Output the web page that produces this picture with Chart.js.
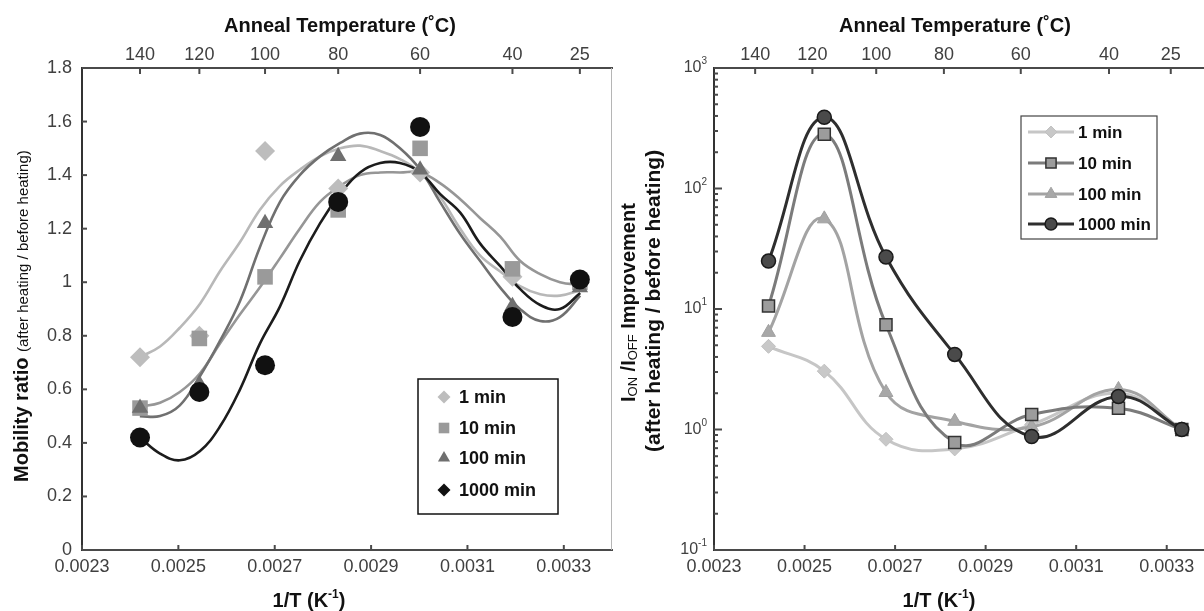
<!DOCTYPE html>
<html>
<head>
<meta charset="utf-8">
<script src="https://cdn.jsdelivr.net/npm/chart.js@4.4.0/dist/chart.umd.min.js"></script>
<style>
  html, body { margin: 0; padding: 0; background: #fff; }
  #wrap { position: relative; width: 1204px; height: 611px; overflow: hidden; }
  canvas { position: absolute; left: 0; top: 0; }
</style>
</head>
<body>
<div id="wrap">
  <canvas id="mobChart" width="1204" height="611"></canvas>
  <!-- wider than the page: the right panel runs past the edge, as in the original crop -->
  <canvas id="onoffChart" width="1230" height="611"></canvas>
</div>
<script>
const FONT = "'Liberation Sans', Arial, Helvetica, sans-serif";

// ---------- data ----------
const seriesNames = ['1 min', '10 min', '100 min', '1000 min'];
const annealTemps = ['140', '120', '100', '80', '60', '40', '25'];
// 1/T of the anneal temperatures (data points + left top axis)
const annealX = [0.0024204, 0.0025436, 0.0026799, 0.0028317, 0.0030017, 0.0031934, 0.0033333];
// the right panel's top axis is drawn slightly shifted in the original
const rightTopTickX = [0.0023909, 0.0025173, 0.0026583, 0.0028078, 0.0029776, 0.0031725, 0.0033089];
const xTickValues = [0.0023, 0.0025, 0.0027, 0.0029, 0.0031, 0.0033];
const mobTickValues = [0, 0.2, 0.4, 0.6, 0.8, 1, 1.2, 1.4, 1.6, 1.8];
const ratioDecades = [0.1, 1, 10, 100, 1000];
const ratioExponents = ['-1', '0', '1', '2', '3'];

// mobility ratio (after / before heating), measured points
const mob1 = [0.72, 0.80, 1.49, 1.35, 1.41, 1.02, 1.00];
const mob10 = [0.53, 0.79, 1.02, 1.27, 1.50, 1.05, 1.00];
const mob100 = [0.53, 0.62, 1.22, 1.47, 1.42, 0.91, 0.98];
const mob1000 = [0.42, 0.59, 0.69, 1.30, 1.58, 0.87, 1.01];

// smooth fit curves on the left panel, sampled from the figure
const fitX = [0.00242, 0.002462, 0.002503, 0.002545, 0.002586, 0.002628, 0.002669, 0.002711,
  0.002752, 0.002794, 0.002836, 0.002877, 0.002919, 0.00296, 0.003002, 0.003043, 0.003085,
  0.003126, 0.003168, 0.003209, 0.003251, 0.003292, 0.003334];
const fit1 = [0.72, 0.76, 0.83, 0.92, 1.04, 1.15, 1.27, 1.36, 1.42, 1.47, 1.50, 1.51, 1.49,
  1.46, 1.41, 1.32, 1.20, 1.10, 1.04, 0.985, 0.955, 0.95, 0.97];
const fit10 = [0.535, 0.55, 0.59, 0.66, 0.77, 0.88, 0.98, 1.09, 1.20, 1.30, 1.36, 1.40, 1.41,
  1.41, 1.41, 1.37, 1.31, 1.24, 1.17, 1.08, 1.03, 1.00, 0.99];
const fit100 = [0.50, 0.50, 0.54, 0.65, 0.78, 0.93, 1.13, 1.30, 1.40, 1.47, 1.52, 1.555, 1.55,
  1.50, 1.42, 1.30, 1.18, 1.08, 0.98, 0.90, 0.855, 0.87, 0.95];
const fit1000 = [0.42, 0.36, 0.335, 0.37, 0.46, 0.60, 0.77, 0.91, 1.08, 1.22, 1.33, 1.41, 1.445,
  1.445, 1.41, 1.33, 1.26, 1.145, 1.06, 0.975, 0.915, 0.90, 0.96];

// I_ON/I_OFF improvement (after / before heating)
const onoff1 = [4.9, 3.05, 0.83, 0.69, 1.1, 2.0, 1.0];
const onoff10 = [10.6, 282, 7.4, 0.78, 1.33, 1.5, 1.0];
const onoff100 = [6.4, 56, 2.03, 1.17, 1.05, 2.15, 1.0];
const onoff1000 = [25, 390, 27, 4.2, 0.875, 1.88, 1.0];

function pts(xs, ys) {
  return xs.map((x, i) => ({ x: x, y: ys[i] }));
}

// ---------- drawing helpers ----------
function drawMarker(ctx, style, x, y, r, fill, stroke, lw) {
  ctx.beginPath();
  if (style === 'rectRot') {
    ctx.moveTo(x - r, y); ctx.lineTo(x, y - r); ctx.lineTo(x + r, y); ctx.lineTo(x, y + r);
    ctx.closePath();
  } else if (style === 'rect') {
    const h = r * Math.SQRT1_2;
    ctx.rect(x - h, y - h, 2 * h, 2 * h);
  } else if (style === 'triangle') {
    ctx.moveTo(x, y - r);
    ctx.lineTo(x + r * 0.866, y + r * 0.5);
    ctx.lineTo(x - r * 0.866, y + r * 0.5);
    ctx.closePath();
  } else {
    ctx.arc(x, y, r, 0, Math.PI * 2);
  }
  ctx.fillStyle = fill;
  ctx.fill();
  if (lw) {
    ctx.lineWidth = lw;
    ctx.strokeStyle = stroke;
    ctx.stroke();
  }
}

// text made of pieces with different fonts / vertical offsets
function drawRich(ctx, x, y, parts, align) {
  let total = 0;
  parts.forEach(p => { ctx.font = p.font; p.w = ctx.measureText(p.text).width; total += p.w; });
  let cx = align === 'center' ? x - total / 2 : (align === 'right' ? x - total : x);
  ctx.textAlign = 'left';
  ctx.textBaseline = 'alphabetic';
  parts.forEach(p => {
    ctx.font = p.font;
    ctx.fillText(p.text, cx, y + (p.dy || 0));
    cx += p.w;
  });
}

function drawRotated(ctx, x, y, parts) {
  ctx.save();
  ctx.translate(x, y);
  ctx.rotate(-Math.PI / 2);
  drawRich(ctx, 0, 0, parts, 'left');
  ctx.restore();
}

// short tick marks pointing into the plot
const innerTicks = {
  id: 'innerTicks',
  afterDraw(chart, args, opts) {
    const ctx = chart.ctx;
    const a = chart.chartArea;
    ctx.save();
    ctx.strokeStyle = opts.color;
    ctx.lineWidth = 2;
    Object.values(chart.scales).forEach(s => {
      s.ticks.forEach(t => {
        const p = s.getPixelForValue(t.value);
        const len = t.minor ? opts.minorLen : opts.len[s.position];
        ctx.beginPath();
        if (s.position === 'left') {
          ctx.moveTo(a.left, p); ctx.lineTo(a.left + len, p);
        } else if (s.position === 'bottom') {
          ctx.moveTo(p, a.bottom); ctx.lineTo(p, a.bottom - len);
        } else {
          ctx.moveTo(p, a.top); ctx.lineTo(p, a.top + len);
        }
        ctx.stroke();
      });
    });
    ctx.restore();
  }
};

const tickFont = { family: FONT, size: 18 };
const TICK_COLOR = '#404040';
const TITLE_FONT = 'bold 20px ' + FONT;

function xAxis(position, min, max, values, labels, height, pad) {
  return {
    type: 'linear',
    position: position,
    min: min,
    max: max,
    afterFit: s => { s.height = height; s.paddingLeft = 0; s.paddingRight = 0; },
    afterBuildTicks: s => { s.ticks = values.map(v => ({ value: v })); },
    ticks: {
      font: tickFont, color: TICK_COLOR, padding: pad, autoSkip: false, maxRotation: 0,
      callback: (v, i) => labels[i]
    },
    grid: { display: false, drawTicks: false },
    border: { color: '#4a4a4a', width: 2 }
  };
}

function kelvinTitle(ctx, x) {
  drawRich(ctx, x, 607, [
    { text: '1/T (K', font: TITLE_FONT },
    { text: '-1', font: 'bold 12px ' + FONT, dy: -9 },
    { text: ')', font: TITLE_FONT }
  ], 'center');
}

// ---------- left panel: mobility ratio ----------
const mobMarkers = [
  { key: 3, data: mob1000, style: 'circle', legendStyle: 'rectRot', r: 10, legendR: 6.5, fill: '#111111' },
  { key: 2, data: mob100, style: 'triangle', legendStyle: 'triangle', r: 9.5, legendR: 7, fill: '#6f6f6f' },
  { key: 1, data: mob10, style: 'rect', legendStyle: 'rect', r: 11, legendR: 7.5, fill: '#9a9a9a' },
  { key: 0, data: mob1, style: 'rectRot', legendStyle: 'rectRot', r: 10, legendR: 6.5, fill: '#bdbdbd' }
];
const mobCurves = [
  { key: 3, data: fit1000, color: '#1c1c1c' },
  { key: 2, data: fit100, color: '#707070' },
  { key: 1, data: fit10, color: '#969696' },
  { key: 0, data: fit1, color: '#b8b8b8' }
];

const mobDatasets = [];
mobMarkers.forEach((m, i) => {
  mobDatasets.push({
    label: seriesNames[m.key],
    data: pts(annealX, m.data),
    showLine: false,
    pointStyle: m.style,
    pointRadius: m.r,
    pointHoverRadius: m.r,
    backgroundColor: m.fill,
    borderColor: m.fill,
    borderWidth: 0,
    order: i
  });
});
mobCurves.forEach((c, i) => {
  mobDatasets.push({
    label: seriesNames[c.key] + ' fit',
    data: pts(fitX, c.data),
    showLine: true,
    pointRadius: 0,
    borderColor: c.color,
    borderWidth: 2.6,
    tension: 0.4,
    fill: false,
    order: 10 + i
  });
});

const mobDecor = {
  id: 'mobDecor',
  afterDraw(chart) {
    const ctx = chart.ctx;
    const a = chart.chartArea;
    ctx.save();
    // thin right frame
    ctx.strokeStyle = '#b5b5b5';
    ctx.lineWidth = 1;
    ctx.beginPath(); ctx.moveTo(a.right - 0.5, a.top); ctx.lineTo(a.right - 0.5, a.bottom); ctx.stroke();

    ctx.fillStyle = '#111';
    drawRich(ctx, 340, 32, [{ text: 'Anneal Temperature (\u02DAC)', font: TITLE_FONT }], 'center');
    kelvinTitle(ctx, 309);
    drawRotated(ctx, 28, 482, [
      { text: 'Mobility ratio ', font: 'bold 20px ' + FONT },
      { text: '(after heating / before heating)', font: '15px ' + FONT }
    ]);

    // legend
    ctx.strokeStyle = '#111';
    ctx.lineWidth = 1.5;
    ctx.strokeRect(418, 379, 140, 135);
    const rows = [397, 428, 458, 490];
    for (let k = 0; k < 4; k++) {
      const m = mobMarkers.find(s => s.key === k);
      drawMarker(ctx, m.legendStyle, 444, rows[k], m.legendR, m.fill);
      ctx.fillStyle = '#111';
      drawRich(ctx, 459, rows[k] + 6, [{ text: seriesNames[k], font: 'bold 18px ' + FONT }], 'left');
    }
    ctx.restore();
  }
};

new Chart(document.getElementById('mobChart'), {
  type: 'scatter',
  data: { datasets: mobDatasets },
  options: {
    responsive: false,
    animation: false,
    devicePixelRatio: 1,
    layout: { padding: { left: 0, right: 592, top: 0, bottom: 0 } },
    plugins: {
      legend: { display: false },
      tooltip: { enabled: false },
      innerTicks: { color: '#4a4a4a', len: { left: 5, bottom: 5, top: 6 }, minorLen: 3 }
    },
    scales: {
      x: xAxis('bottom', 0.0023, 0.0034, xTickValues, xTickValues.map(v => v.toFixed(4)), 61, 6),
      xTop: xAxis('top', 0.0023, 0.0034, annealX, annealTemps, 68, 2),
      y: {
        type: 'linear',
        position: 'left',
        min: 0,
        max: 1.8,
        afterFit: s => { s.width = 82; s.paddingTop = 0; s.paddingBottom = 0; },
        afterBuildTicks: s => { s.ticks = mobTickValues.map(v => ({ value: v })); },
        ticks: {
          font: tickFont, color: TICK_COLOR, padding: 10,
          callback: v => String(+v.toFixed(1))
        },
        grid: { display: false, drawTicks: false },
        border: { color: '#333', width: 2 }
      }
    }
  },
  plugins: [innerTicks, mobDecor]
});

// ---------- right panel: I_ON/I_OFF improvement ----------
const onoffSeries = [
  { key: 3, data: onoff1000, style: 'circle', r: 7, fill: '#4a4a4a', border: '#1a1a1a', bw: 1.5, line: '#2e2e2e' },
  { key: 1, data: onoff10, style: 'rect', r: 8.5, fill: '#9c9c9c', border: '#333333', bw: 1.5, line: '#7b7b7b' },
  { key: 2, data: onoff100, style: 'triangle', r: 8, fill: '#a8a8a8', border: '#a0a0a0', bw: 1, line: '#a3a3a3' },
  { key: 0, data: onoff1, style: 'rectRot', r: 7, fill: '#c8c8c8', border: '#c0c0c0', bw: 1, line: '#c6c6c6' }
];
const onoffDatasets = onoffSeries.map((s, i) => ({
  label: seriesNames[s.key],
  data: pts(annealX, s.data),
  showLine: true,
  tension: 0.42,
  borderColor: s.line,
  borderWidth: 3,
  pointStyle: s.style,
  pointRadius: s.r,
  pointHoverRadius: s.r,
  pointBackgroundColor: s.fill,
  pointBorderColor: s.border,
  pointBorderWidth: s.bw,
  fill: false,
  order: i
}));

const onoffDecor = {
  id: 'onoffDecor',
  afterDraw(chart) {
    const ctx = chart.ctx;
    const ys = chart.scales.y;
    ctx.save();
    ctx.fillStyle = TICK_COLOR;
    ratioDecades.forEach((v, i) => {
      const p = ys.getPixelForValue(v);
      drawRich(ctx, 707, p + 4, [
        { text: '10', font: '16px ' + FONT },
        { text: ratioExponents[i], font: '10px ' + FONT, dy: -8 }
      ], 'right');
    });

    ctx.fillStyle = '#111';
    drawRich(ctx, 955, 32, [{ text: 'Anneal Temperature (\u02DAC)', font: TITLE_FONT }], 'center');
    kelvinTitle(ctx, 939);
    drawRotated(ctx, 635, 402, [
      { text: 'I', font: 'bold 20px ' + FONT },
      { text: 'ON', font: '13px ' + FONT, dy: 2 },
      { text: ' /I', font: 'bold 20px ' + FONT },
      { text: 'OFF', font: '13px ' + FONT, dy: 2 },
      { text: ' Improvement', font: 'bold 20px ' + FONT }
    ]);
    drawRotated(ctx, 660, 452, [
      { text: '(after heating / before heating)', font: 'bold 21px ' + FONT }
    ]);

    // legend
    ctx.strokeStyle = '#444';
    ctx.lineWidth = 1.2;
    ctx.strokeRect(1021, 116, 136, 123);
    const rows = [132, 163, 194, 224];
    for (let k = 0; k < 4; k++) {
      const s = onoffSeries.find(o => o.key === k);
      ctx.strokeStyle = s.line;
      ctx.lineWidth = 3;
      ctx.beginPath(); ctx.moveTo(1028, rows[k]); ctx.lineTo(1074, rows[k]); ctx.stroke();
      drawMarker(ctx, s.style, 1051, rows[k], s.r * 0.85, s.fill, s.border, s.bw);
      ctx.fillStyle = '#111';
      drawRich(ctx, 1078, rows[k] + 6, [{ text: seriesNames[k], font: 'bold 17px ' + FONT }], 'left');
    }
    ctx.restore();
  }
};

// minor ticks of the log axis: 1..9 x each decade
const logTicks = [];
ratioDecades.forEach((d, i) => {
  for (let m = 1; m <= 9; m++) {
    if (i === ratioDecades.length - 1 && m > 1) break;
    logTicks.push({ value: d * m, minor: m !== 1 });
  }
});

new Chart(document.getElementById('onoffChart'), {
  type: 'scatter',
  data: { datasets: onoffDatasets },
  options: {
    responsive: false,
    animation: false,
    devicePixelRatio: 1,
    layout: { padding: { left: 612, right: 18, top: 0, bottom: 0 } },
    plugins: {
      legend: { display: false },
      tooltip: { enabled: false },
      innerTicks: { color: '#4a4a4a', len: { left: 8, bottom: 5, top: 6 }, minorLen: 4 }
    },
    scales: {
      x: xAxis('bottom', 0.0023, 0.0034, xTickValues, xTickValues.map(v => v.toFixed(4)), 61, 6),
      xTop: xAxis('top', 0.0023, 0.0034, rightTopTickX, annealTemps, 68, 2),
      y: {
        type: 'logarithmic',
        position: 'left',
        min: 0.1,
        max: 1000,
        afterFit: s => { s.width = 102; s.paddingTop = 0; s.paddingBottom = 0; },
        afterBuildTicks: s => { s.ticks = logTicks.map(t => ({ value: t.value, minor: t.minor })); },
        ticks: { display: false },
        grid: { display: false, drawTicks: false },
        border: { color: '#333', width: 2 }
      }
    }
  },
  plugins: [innerTicks, onoffDecor]
});
</script>
</body>
</html>
